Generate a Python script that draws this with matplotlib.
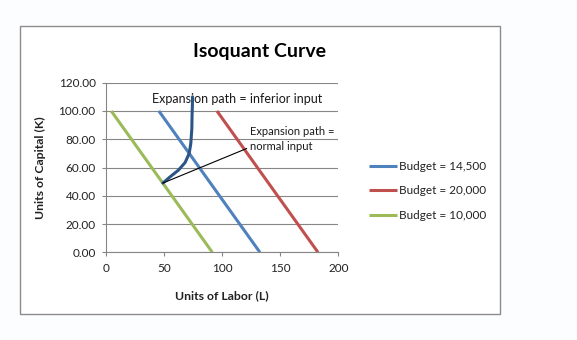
import matplotlib
matplotlib.use('Agg')
import matplotlib.pyplot as plt
from matplotlib.patches import Rectangle

plt.rcParams['font.family'] = ['Lato', 'DejaVu Sans']

# budget lines (labor, capital)
budget_labels = ['Budget = 14,500', 'Budget = 20,000', 'Budget = 10,000']
budget_colors = ['#4f81bd', '#c0504d', '#9bbb59']
budget_L = [[45.5, 132.5], [95.5, 182.5], [4.5, 91.5]]
budget_K = [[100, 0], [100, 0], [100, 0]]

# expansion path, inferior input (hand drawn curve)
inferior_L = [49, 55.2, 62.3, 68.1, 71.6, 73.0, 73.9, 74.1, 74.4, 74.5]
inferior_K = [49, 53.4, 58.1, 63.5, 69.9, 76.9, 87.5, 96.9, 105.0, 110.0]

# expansion path, normal input
normal_L = [49, 121]
normal_K = [49, 73.4]

fig = plt.figure(figsize=(5.77, 3.40), dpi=100)
fig.patch.set_facecolor('#fcfdff')
border = Rectangle((20 / 577, 1 - 314 / 340), 480 / 577, 288 / 340,
                   transform=fig.transFigure, facecolor='white',
                   edgecolor='#8c8c8c', linewidth=1.0, zorder=-1)
fig.patches.append(border)

ax = fig.add_axes([106 / 577, 1 - 252.3 / 340, 232.3 / 577, 169.6 / 340])
ax.set_zorder(1)
ax.set_facecolor('none')

for L, K, lab, col in zip(budget_L, budget_K, budget_labels, budget_colors):
    ax.plot(L, K, color=col, lw=2.2, label=lab, solid_capstyle='butt')

ax.plot(inferior_L, inferior_K, color='#2c5587', lw=2.2, solid_capstyle='round', zorder=4)
ax.plot(normal_L, normal_K, color='black', lw=0.8, zorder=4)

ax.text(39.4, 108.7, 'Expansion path = inferior input', fontsize=9,
        ha='left', va='center', color='#1a1a1a')
ax.text(124.0, 80.0, 'Expansion path =\nnormal input', fontsize=8,
        ha='left', va='center', linespacing=1.45, color='#1a1a1a')

ax.set_xlim(0, 200)
ax.set_ylim(0, 120)
ax.set_xticks([0, 50, 100, 150, 200])
ax.set_yticks([0, 20, 40, 60, 80, 100, 120])
ax.set_yticklabels(['%.2f' % v for v in [0, 20, 40, 60, 80, 100, 120]])
ax.grid(axis='y', color='#868686', lw=0.8)
ax.set_axisbelow(True)
for s in ['top', 'right']:
    ax.spines[s].set_visible(False)
for s in ['left', 'bottom']:
    ax.spines[s].set_color('#868686')
    ax.spines[s].set_linewidth(0.8)
ax.tick_params(axis='both', colors='#868686', length=3, width=0.8,
               labelsize=8.5, labelcolor='#222222')
ax.tick_params(axis='x', pad=5)
ax.tick_params(axis='y', pad=4.5)

ax.set_xlabel('Units of Labor (L)', fontsize=8.8, fontweight='bold', color='#222222')
ax.xaxis.set_label_coords(0.5, -0.222)
ax.set_ylabel('Units of Capital (K)', fontsize=8.8, fontweight='bold', color='#222222')
ax.yaxis.set_label_coords(-0.259, 0.5)

fig.text(259.6 / 577, 1 - 52 / 340, 'Isoquant Curve', fontsize=14,
         fontweight='bold', ha='center', va='center', color='black')

leg = fig.legend(loc='center left', bbox_to_anchor=(369 / 577, 1 - 191 / 340),
                 frameon=False, fontsize=8.5, handlelength=2.4,
                 handletextpad=0.1, labelspacing=1.15, borderpad=0,
                 borderaxespad=0)
for t in leg.get_texts():
    t.set_color('#222222')

fig.savefig('out.png', dpi=100, facecolor=fig.get_facecolor())
